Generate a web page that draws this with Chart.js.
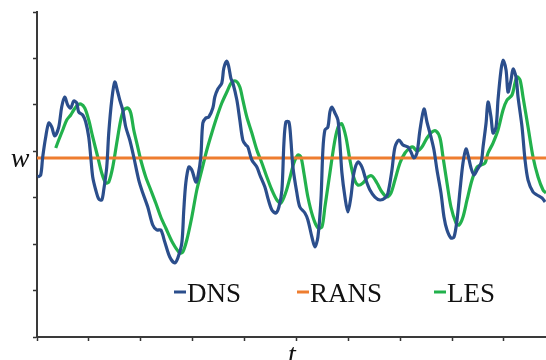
<!DOCTYPE html>
<html>
<head>
<meta charset="utf-8">
<script src="https://cdn.jsdelivr.net/npm/chart.js@4"></script>
<style>
html,body{margin:0;padding:0;background:#fff;}
#wrap{width:546px;height:360px;position:relative;}
</style>
</head>
<body>
<div id="wrap"><canvas id="c" width="546" height="360"></canvas></div>
<script>
// time axis ticks (unlabelled) and value axis ticks (unlabelled)
const xTicks = [0,1,2,3,4,5,6,7,8,9];
const yTicks = [0,1,2,3,4,5,6,7];
const xMax = 9.81;
const yMax = 7;

// DNS signal: t values and w values
const dnsT = [0.013,0.071,0.110,0.168,0.226,0.284,0.341,0.419,0.476,0.534,0.592,0.650,0.708,0.766,0.804,0.881,0.939,0.997,1.036,1.074,1.132,1.190,1.248,1.286,1.344,1.383,1.441,1.499,1.556,1.595,1.653,1.711,1.788,1.865,1.961,2.039,2.135,2.231,2.309,2.386,2.463,2.559,2.656,2.714,2.791,2.829,2.868,2.926,2.984,3.061,3.099,3.157,3.196,3.254,3.311,3.389,3.427,3.485,3.562,3.601,3.659,3.697,3.736,3.775,3.852,3.909,3.967,4.025,4.064,4.141,4.237,4.295,4.392,4.449,4.527,4.604,4.662,4.720,4.759,4.797,4.855,4.893,4.932,5.009,5.066,5.163,5.221,5.298,5.356,5.414,5.472,5.510,5.549,5.607,5.645,5.684,5.742,5.800,5.838,5.877,5.935,5.992,6.050,6.108,6.186,6.263,6.340,6.417,6.513,6.610,6.706,6.764,6.841,6.899,6.976,7.053,7.150,7.207,7.265,7.323,7.381,7.458,7.516,7.593,7.651,7.709,7.786,7.844,7.902,7.979,8.037,8.095,8.153,8.210,8.268,8.307,8.365,8.423,8.481,8.558,8.597,8.655,8.693,8.750,8.789,8.847,8.885,8.943,8.982,9.040,9.078,9.136,9.175,9.232,9.271,9.348,9.406,9.464,9.560,9.638,9.734,9.792];
const dnsW = [3.446,3.489,3.877,4.308,4.609,4.523,4.329,4.523,4.954,5.169,4.997,4.932,5.083,5.040,4.846,4.781,4.631,4.308,3.877,3.446,3.166,2.972,2.951,3.166,3.661,4.394,5.105,5.492,5.277,5.105,4.889,4.523,4.243,3.877,3.381,3.101,2.800,2.412,2.305,2.305,2.046,1.723,1.594,1.702,2.025,2.735,3.317,3.661,3.597,3.338,3.446,3.877,4.609,4.717,4.738,4.932,5.169,5.341,5.471,5.794,5.944,5.815,5.578,5.471,5.105,4.674,4.243,4.135,4.092,3.812,3.661,3.489,3.231,2.994,2.735,2.671,2.800,3.166,4.178,4.631,4.631,4.243,3.661,3.101,2.800,2.671,2.520,2.154,1.938,2.154,2.951,4.028,4.458,4.523,4.846,4.954,4.825,4.674,4.178,3.532,3.015,2.692,3.015,3.532,3.769,3.661,3.381,3.166,3.015,2.951,2.994,3.101,3.597,4.092,4.243,4.135,4.092,3.985,3.855,3.963,4.458,4.911,4.631,4.308,4.028,3.597,3.101,2.585,2.305,2.132,2.154,2.520,3.166,3.748,4.049,3.920,3.640,3.489,3.597,3.748,4.092,4.609,5.061,4.738,4.394,4.523,5.105,5.751,5.966,5.751,5.277,5.535,5.772,5.600,5.169,4.523,3.812,3.381,3.123,3.058,2.994,2.908];

// RANS: constant mean value
const ransT = [0, 9.81];
const ransW = [3.855, 3.855];

// LES signal
const lesT = [0.361,0.419,0.496,0.573,0.650,0.708,0.785,0.843,0.920,0.997,1.074,1.171,1.248,1.325,1.383,1.460,1.537,1.614,1.672,1.749,1.807,1.865,1.942,2.000,2.096,2.193,2.289,2.386,2.482,2.617,2.752,2.810,2.887,2.984,3.080,3.176,3.273,3.369,3.466,3.562,3.659,3.755,3.832,3.909,3.967,4.044,4.141,4.237,4.334,4.430,4.527,4.623,4.700,4.797,4.874,4.951,5.028,5.086,5.144,5.221,5.318,5.414,5.491,5.549,5.645,5.742,5.819,5.877,5.954,6.031,6.108,6.186,6.282,6.378,6.456,6.552,6.648,6.745,6.822,6.899,6.995,7.092,7.188,7.246,7.323,7.419,7.516,7.612,7.690,7.767,7.825,7.902,7.979,8.076,8.134,8.210,8.288,8.384,8.481,8.558,8.635,8.693,8.789,8.885,8.982,9.059,9.155,9.213,9.252,9.310,9.367,9.464,9.560,9.657,9.753,9.810];
const lesW = [4.071,4.243,4.458,4.674,4.781,4.889,4.997,5.018,4.932,4.674,4.308,3.877,3.532,3.317,3.338,3.661,4.178,4.674,4.889,4.932,4.825,4.458,4.092,3.812,3.446,3.166,2.886,2.585,2.348,2.025,1.809,1.831,2.089,2.585,3.166,3.597,4.028,4.394,4.738,5.040,5.277,5.492,5.514,5.385,5.105,4.738,4.394,4.028,3.748,3.446,3.166,2.951,2.886,3.123,3.425,3.748,3.920,3.877,3.532,3.015,2.585,2.348,2.369,2.800,3.532,4.243,4.566,4.588,4.308,3.812,3.425,3.274,3.317,3.446,3.468,3.317,3.123,3.015,3.101,3.381,3.748,3.963,4.071,4.092,4.006,4.092,4.286,4.415,4.437,4.286,3.877,3.317,2.800,2.455,2.412,2.585,2.951,3.381,3.661,3.705,3.748,3.963,4.178,4.458,4.889,5.105,5.212,5.471,5.600,5.535,5.169,4.523,3.877,3.446,3.166,3.101];

const seriesLabels = ['DNS', 'RANS', 'LES'];
const colors = ['#2b4e8c', '#ee7d2f', '#22b14c'];

function pts(xs, ys){ return xs.map((x,i)=>({x:x, y:ys[i]})); }

const SERIF = "'Liberation Serif', 'Times New Roman', Times, serif";

const overlay = {
  id: 'overlay',
  afterDraw(chart){
    const ctx = chart.ctx;
    ctx.save();
    ctx.fillStyle = '#111';
    ctx.font = 'italic 28px ' + SERIF;
    ctx.textAlign = 'center';
    ctx.textBaseline = 'alphabetic';
    ctx.fillText('w', 20, 167);
    ctx.fillText('t', 292, 363);
    const items = [{x:187},{x:310},{x:447}];
    ctx.font = '27px ' + SERIF;
    ctx.textAlign = 'left';
    chart.data.datasets.forEach((ds, i) => {
      const tx = items[i].x;
      ctx.strokeStyle = ds.borderColor;
      ctx.lineWidth = 3;
      ctx.beginPath();
      ctx.moveTo(tx - 13, 292);
      ctx.lineTo(tx - 1, 292);
      ctx.stroke();
      ctx.fillStyle = '#111';
      ctx.fillText(ds.label, tx, 302);
    });
    ctx.restore();
  }
};

new Chart(document.getElementById('c'), {
  type: 'line',
  data: {
    datasets: [
      {label: seriesLabels[0], data: pts(dnsT, dnsW), borderColor: colors[0], borderWidth: 3.2, pointRadius: 0, tension: 0.3, fill: false},
      {label: seriesLabels[1], data: pts(ransT, ransW), borderColor: colors[1], borderWidth: 3.2, pointRadius: 0, tension: 0, fill: false},
      {label: seriesLabels[2], data: pts(lesT, lesW), borderColor: colors[2], borderWidth: 3.2, pointRadius: 0, tension: 0.3, fill: false}
    ]
  },
  options: {
    responsive: false,
    devicePixelRatio: 1,
    animation: false,
    layout: {padding: {left: 33, top: 12, right: 0, bottom: 19}},
    plugins: {legend: {display: false}, tooltip: {enabled: false}},
    scales: {
      x: {
        type: 'linear', min: 0, max: xMax,
        afterBuildTicks: (s) => { s.ticks = xTicks.map(v => ({value: v})); },
        ticks: {display: false},
        grid: {display: true, drawOnChartArea: false, drawTicks: true, tickLength: 4, tickColor: '#333', tickWidth: 1.5},
        border: {display: true, color: '#3a3a3a', width: 2}
      },
      y: {
        type: 'linear', min: 0, max: yMax,
        afterBuildTicks: (s) => { s.ticks = yTicks.map(v => ({value: v})); },
        ticks: {display: false},
        grid: {display: true, drawOnChartArea: false, drawTicks: true, tickLength: 4, tickColor: '#333', tickWidth: 1.5},
        border: {display: true, color: '#3a3a3a', width: 2}
      }
    }
  },
  plugins: [overlay]
});
</script>
</body>
</html>
